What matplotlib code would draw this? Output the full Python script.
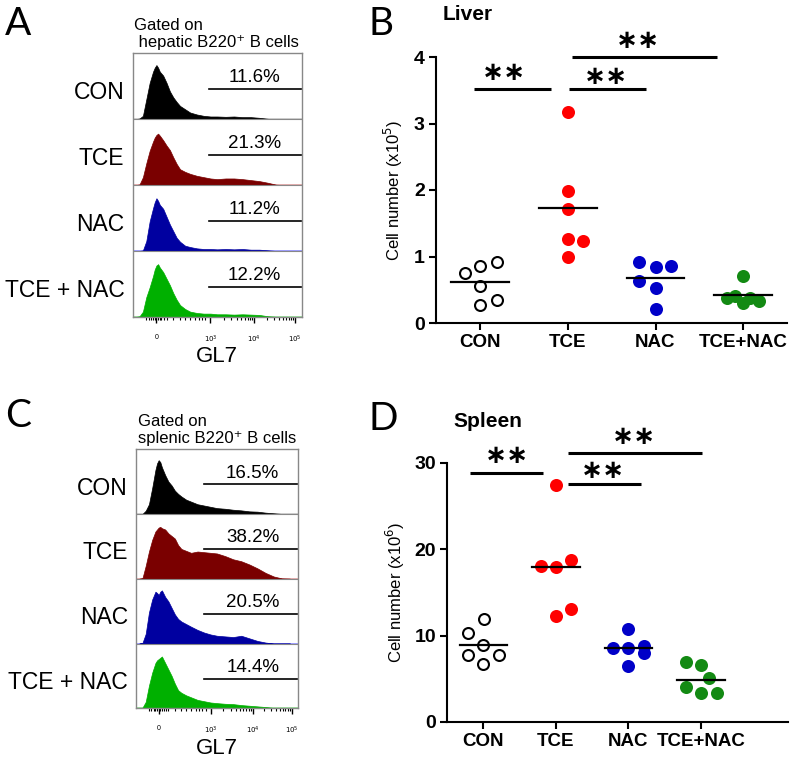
import matplotlib
matplotlib.use('Agg')
import matplotlib.pyplot as plt
import numpy as np

plt.rcParams['font.family'] = ['Liberation Sans', 'DejaVu Sans']

groups = ['CON', 'TCE', 'NAC', 'TCE+NAC']
row_labels = ['CON', 'TCE', 'NAC', 'TCE + NAC']
hist_colors = ['#000000', '#7a0000', '#0000a0', '#00b000']
base_colors = ['#c8c8c8', '#e0a0a0', '#8c8cff', '#90e090']
dot_face = ['white', '#ff0000', '#0000c8', '#138a13']
dot_edge = ['black', '#ff0000', '#0000c8', '#138a13']

# flow histograms: channel (0-100 across the box) and height (fraction of a row)
chan = [2, 4, 6, 8, 10, 12, 13, 14, 15, 16, 18, 20, 22, 24, 26, 28, 31, 34, 38, 42, 46, 50, 55, 60, 65, 70, 75, 80, 85, 90, 95]

liver_con = [0, 0.01, 0.05, 0.3, 0.55, 0.72, 0.78, 0.82, 0.78, 0.72, 0.66, 0.55, 0.42, 0.33, 0.26, 0.2, 0.15, 0.1, 0.07, 0.05, 0.04, 0.04, 0.035, 0.04, 0.03, 0.03, 0.02, 0.005, 0, 0, 0]
liver_tce = [0, 0.01, 0.12, 0.33, 0.52, 0.66, 0.72, 0.76, 0.78, 0.75, 0.68, 0.6, 0.53, 0.42, 0.32, 0.24, 0.2, 0.17, 0.14, 0.12, 0.1, 0.09, 0.1, 0.1, 0.09, 0.075, 0.06, 0.035, 0.005, 0, 0]
liver_nac = [0, 0, 0.01, 0.15, 0.45, 0.65, 0.74, 0.8, 0.76, 0.7, 0.64, 0.52, 0.4, 0.3, 0.2, 0.14, 0.08, 0.06, 0.04, 0.03, 0.03, 0.025, 0.03, 0.025, 0.03, 0.02, 0.02, 0.01, 0, 0, 0]
liver_both = [0, 0.01, 0.08, 0.3, 0.45, 0.62, 0.72, 0.78, 0.8, 0.75, 0.68, 0.58, 0.48, 0.36, 0.26, 0.18, 0.12, 0.08, 0.06, 0.05, 0.05, 0.04, 0.04, 0.035, 0.04, 0.035, 0.03, 0.01, 0, 0, 0]

spleen_con = [0, 0, 0.05, 0.15, 0.4, 0.68, 0.78, 0.83, 0.8, 0.72, 0.6, 0.5, 0.44, 0.36, 0.31, 0.27, 0.22, 0.19, 0.15, 0.13, 0.11, 0.09, 0.08, 0.065, 0.055, 0.04, 0.035, 0.02, 0.01, 0, 0]
spleen_tce = [0, 0.01, 0.2, 0.42, 0.6, 0.73, 0.76, 0.79, 0.8, 0.78, 0.76, 0.7, 0.66, 0.62, 0.52, 0.46, 0.43, 0.4, 0.42, 0.41, 0.4, 0.39, 0.35, 0.3, 0.27, 0.22, 0.16, 0.09, 0.035, 0.005, 0]
spleen_nac = [0, 0.01, 0.15, 0.48, 0.68, 0.8, 0.78, 0.75, 0.8, 0.82, 0.72, 0.65, 0.55, 0.45, 0.38, 0.34, 0.3, 0.26, 0.21, 0.17, 0.14, 0.12, 0.11, 0.1, 0.12, 0.08, 0.04, 0.015, 0, 0, 0]
spleen_both = [0, 0.01, 0.1, 0.35, 0.55, 0.7, 0.74, 0.76, 0.78, 0.8, 0.7, 0.6, 0.5, 0.38, 0.28, 0.24, 0.2, 0.17, 0.13, 0.11, 0.09, 0.08, 0.07, 0.065, 0.05, 0.04, 0.03, 0.02, 0.005, 0, 0]

liver_pct = ['11.6%', '21.3%', '11.2%', '12.2%']
spleen_pct = ['16.5%', '38.2%', '20.5%', '14.4%']

# cell numbers, one list per group, with x jitter as drawn
liver_vals = [[0.75, 0.86, 0.91, 0.55, 0.27, 0.34],
              [3.17, 1.99, 1.72, 1.26, 1.24, 1.0],
              [0.91, 0.84, 0.86, 0.63, 0.53, 0.21],
              [0.71, 0.37, 0.41, 0.30, 0.38, 0.33]]
liver_jit = [[-0.17, 0, 0.19, 0, 0, 0.19],
             [0, 0, 0, 0, 0.17, 0],
             [-0.19, 0, 0.18, -0.19, 0, 0],
             [0, -0.18, -0.09, 0, 0.08, 0.18]]
liver_med = [0.61, 1.73, 0.68, 0.42]

spleen_vals = [[11.9, 10.3, 8.86, 7.7, 7.7, 6.7],
               [27.4, 18.1, 18.0, 18.75, 13.1, 12.3],
               [10.8, 8.6, 8.6, 8.8, 8.0, 6.5],
               [7.0, 6.55, 4.1, 5.1, 3.3, 3.3]]
spleen_jit = [[0.01, -0.22, 0, -0.22, 0.22, 0],
              [0, -0.21, 0, 0.21, 0.21, 0],
              [0, -0.21, 0, 0.22, 0.22, 0],
              [-0.21, 0, -0.21, 0.11, 0, 0.22]]
spleen_med = [8.93, 18.0, 8.6, 4.9]

# significance bars: x1, x2, y, star x, star y
liver_sig = [(-0.07, 0.81, 3.52, 0.27, 3.76), (1.02, 1.89, 3.52, 1.44, 3.70), (1.05, 2.70, 4.0, 1.80, 4.24)]
spleen_sig = [(-0.19, 0.82, 28.8, 0.32, 30.8), (1.16, 2.17, 27.5, 1.65, 29.1), (1.16, 3.02, 31.1, 2.08, 33.0)]


fig = plt.figure(figsize=(8, 7.6), dpi=100)


def flow_panel(rect, hists, pcts, gate_x, title):
    ax = fig.add_axes(rect)
    for i, h in enumerate(hists):
        base = 3 - i
        ax.axhline(base, color=base_colors[i], lw=1.2, zorder=1)
        ax.fill_between(chan, base, base + np.array(h), color=hist_colors[i], lw=0.5, zorder=2)
        if i > 0:
            ax.axhline(base + 1, color='#888888', lw=0.8, zorder=3)
        ax.plot([gate_x, 99.5], [base + 0.46, base + 0.46], color='black', lw=1.2, zorder=4)
        ax.text(72, base + 0.63, pcts[i], ha='center', va='center', fontsize=13.5)
        ax.text(-0.05, (base + 0.4) / 4, row_labels[i], transform=ax.transAxes,
                ha='right', va='center', fontsize=16.5)
    ax.set_xlim(0, 100)
    ax.set_ylim(0, 4)
    ax.set_yticks([])
    ax.set_xticks([14, 46, 72, 96])
    ax.set_xticklabels(['0', r'$10^3$', r'$10^4$', r'$10^5$'], fontsize=5)
    minor = [8, 9.5, 11, 12, 13, 15, 16, 17, 18.5, 20, 24, 28, 31, 34, 37, 39, 41, 43]
    minor += list(46 + 26 * np.log10(np.arange(2, 10))) + list(72 + 24 * np.log10(np.arange(2, 10)))
    ax.set_xticks(minor, minor=True)
    ax.tick_params(axis='x', which='major', length=4, width=1, pad=8)
    ax.tick_params(axis='x', which='minor', length=2.5, width=0.8)
    for s in ax.spines.values():
        s.set_color('#888888')
        s.set_linewidth(1)
    ax.set_xlabel('GL7', fontsize=16, labelpad=1)
    ax.text(0.01, 1.012, title, transform=ax.transAxes, ha='left', va='bottom',
            fontsize=12, linespacing=1.15)
    return ax


def dot_panel(rect, vals, jit, med, sig, ylim, yticks, ylabel, xmax, labx):
    ax = fig.add_axes(rect)
    for g in range(4):
        x = g + np.array(jit[g])
        ax.scatter(x, vals[g], s=62, facecolor=dot_face[g], edgecolor=dot_edge[g],
                   linewidth=1.5, zorder=3, clip_on=False)
        ax.plot([g - 0.33, g + 0.33], [med[g], med[g]], color='black', lw=1.6, zorder=4)
    for x1, x2, y, sx, sy in sig:
        ax.plot([x1, x2], [y, y], color='black', lw=2.2, clip_on=False, solid_capstyle='butt')
        ax.text(sx, sy, '∗∗', ha='center', va='center', fontsize=19, fontweight='bold',
                family='DejaVu Sans', clip_on=False)
    ax.set_xlim(-0.5, xmax)
    ax.set_ylim(*ylim)
    ax.set_yticks(yticks)
    ax.set_xticks(range(4))
    ax.set_xticklabels(groups, fontsize=13.5, fontweight='bold')
    for lab in ax.get_yticklabels():
        lab.set_fontsize(14)
        lab.set_fontweight('bold')
    ax.spines['top'].set_visible(False)
    ax.spines['right'].set_visible(False)
    ax.spines['left'].set_linewidth(1.5)
    ax.spines['bottom'].set_linewidth(1.5)
    ax.tick_params(axis='both', length=5, width=1.5, pad=3)
    ax.set_ylabel(ylabel, fontsize=12)
    ax.yaxis.set_label_coords(labx, 0.5)
    return ax


flow_panel([0.166, 0.583, 0.211, 0.347], [liver_con, liver_tce, liver_nac, liver_both],
           liver_pct, 45, 'Gated on\n hepatic B220⁺ B cells')
flow_panel([0.170, 0.068, 0.2025, 0.341], [spleen_con, spleen_tce, spleen_nac, spleen_both],
           spleen_pct, 42, 'Gated on\nsplenic B220⁺ B cells')

dot_panel([0.545, 0.575, 0.439, 0.35], liver_vals, liver_jit, liver_med, liver_sig,
          (0, 4), [0, 1, 2, 3, 4], r'Cell number (x10$^5$)', 3.5, -0.088)
dot_panel([0.559, 0.05, 0.426, 0.341], spleen_vals, spleen_jit, spleen_med, spleen_sig,
          (0, 30), [0, 10, 20, 30], r'Cell number (x10$^6$)', 4.2, -0.117)

fig.text(443 / 800, 1 - 15 / 760, 'Liver', fontsize=15, fontweight='bold', ha='left', va='center')
fig.text(453 / 800, 1 - 422 / 760, 'Spleen', fontsize=15, fontweight='bold', ha='left', va='center')

for lab, x, y in [('A', 5, 24), ('B', 368, 24), ('C', 5, 416), ('D', 368, 419)]:
    fig.text(x / 800, 1 - y / 760, lab, fontsize=28, family='Lato', ha='left', va='center')

fig.savefig('out.png', dpi=100)
